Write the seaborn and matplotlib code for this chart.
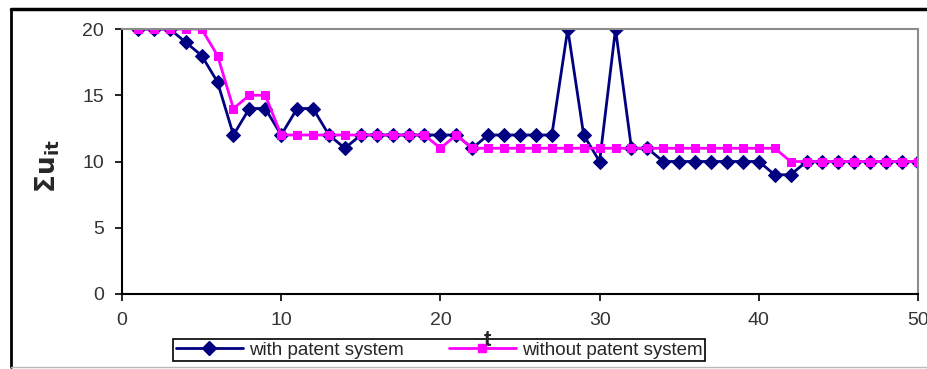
import numpy as np
import pandas as pd
import matplotlib
matplotlib.use("Agg")
import matplotlib.pyplot as plt
from matplotlib.lines import Line2D
import seaborn as sns

# -------- Data --------
t_values = list(range(1, 51))
with_patent = [20, 20, 20, 19, 18, 16, 12, 14, 14, 12,
               14, 14, 12, 11, 12, 12, 12, 12, 12, 12,
               12, 11, 12, 12, 12, 12, 12, 20, 12, 10,
               20, 11, 11, 10, 10, 10, 10, 10, 10, 10,
               9, 9, 10, 10, 10, 10, 10, 10, 10, 10]
without_patent = [20, 20, 20, 20, 20, 18, 14, 15, 15, 12,
                  12, 12, 12, 12, 12, 12, 12, 12, 12, 11,
                  12, 11, 11, 11, 11, 11, 11, 11, 11, 11,
                  11, 11, 11, 11, 11, 11, 11, 11, 11, 11,
                  11, 10, 10, 10, 10, 10, 10, 10, 10, 10]
series_names = ["with patent system", "without patent system"]
x_ticks = [0, 10, 20, 30, 40, 50]
y_ticks = [0, 5, 10, 15, 20]

NAVY = "#000080"
MAGENTA = "#FF00FF"

df = pd.DataFrame({"t": t_values,
                   series_names[0]: with_patent,
                   series_names[1]: without_patent})

# -------- Style --------
sns.set_style("ticks")
plt.rcParams["font.family"] = ["Liberation Sans Narrow", "Liberation Sans", "DejaVu Sans"]

fig = plt.figure(figsize=(9.27, 3.69), dpi=100)
ax = fig.add_axes([122 / 927, 1 - 294 / 369, (918 - 122) / 927, (294 - 29) / 369])

sns.lineplot(data=df, x="t", y=series_names[0], ax=ax, color=NAVY, marker="D",
             markersize=7, markeredgecolor=NAVY, linewidth=2, legend=False)
sns.lineplot(data=df, x="t", y=series_names[1], ax=ax, color=MAGENTA, marker="s",
             markersize=6, markeredgecolor=MAGENTA, linewidth=2, legend=False)

ax.set_xlim(0, 50)
ax.set_ylim(0, 20)
ax.set_xticks(x_ticks)
ax.set_yticks(y_ticks)
ax.set_xlabel("")
ax.set_ylabel("")
ax.tick_params(direction="out", length=5, width=1.2, labelsize=14, colors="black",
               labelcolor="#333333", pad=8)

for side in ["left", "bottom"]:
    ax.spines[side].set_color("black")
    ax.spines[side].set_linewidth(1.5)
for side in ["top", "right"]:
    ax.spines[side].set_visible(True)
    ax.spines[side].set_color("#8c8c8c")
    ax.spines[side].set_linewidth(1.5)

# legend
handles = [Line2D([], [], color=NAVY, marker="D", markersize=7, linewidth=2),
           Line2D([], [], color=MAGENTA, marker="s", markersize=6, linewidth=2)]
leg = fig.legend(handles, series_names, loc="center", ncol=2,
                 bbox_to_anchor=(439 / 927, 1 - 350 / 369), fontsize=13.5,
                 frameon=True, fancybox=False, handlelength=3.6, handletextpad=0.3,
                 columnspacing=2.4, borderpad=0.12, borderaxespad=0)
leg.get_frame().set_edgecolor("black")
leg.get_frame().set_linewidth(1.2)
leg.get_frame().set_alpha(1)

# axis titles (the "t" sits on top of the legend frame, as in the original)
fig.text(48 / 927, 1 - 166 / 369, r"$\mathbf{\Sigma u}_{\mathbf{it}}$", rotation=90,
         ha="center", va="center", fontsize=19)
fig.text(487 / 927, 1 - 341 / 369, "t", ha="center", va="center",
         fontsize=16, fontweight="bold", zorder=10)

# outer chart border
fig.add_artist(Line2D([11 / 927, 1], [1 - 9 / 369, 1 - 9 / 369], color="black",
                      linewidth=2.5, transform=fig.transFigure))
fig.add_artist(Line2D([11 / 927, 11 / 927], [1 - 9 / 369, 1 - 367 / 369], color="black",
                      linewidth=2, transform=fig.transFigure))
fig.add_artist(Line2D([11 / 927, 1], [1 - 367 / 369, 1 - 367 / 369], color="#bbbbbb",
                      linewidth=1, transform=fig.transFigure))

fig.savefig("out.png", dpi=100)
